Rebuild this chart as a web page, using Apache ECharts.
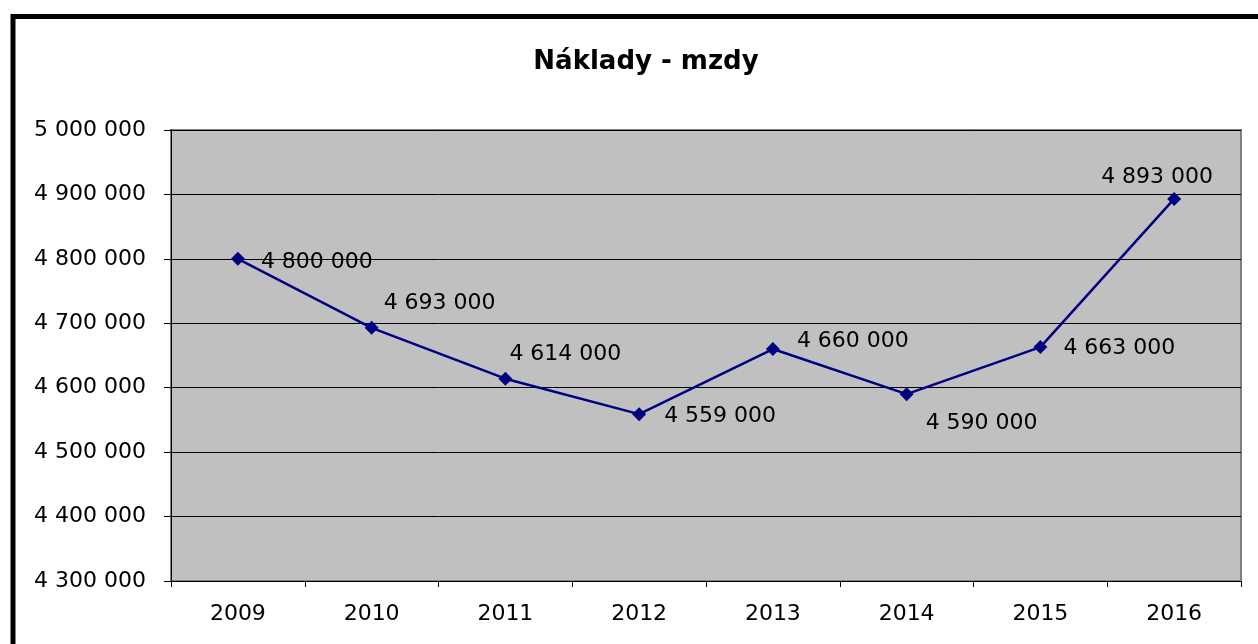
<!DOCTYPE html>
<html>
<head>
<meta charset="utf-8">
<script src="https://cdn.jsdelivr.net/npm/echarts@6/dist/echarts.min.js"></script>
<style>
html,body{margin:0;padding:0;background:#fff;}
#chart{width:1258px;height:644px;}
</style>
</head>
<body>
<div id="chart"></div>
<script>
const titleText = 'Náklady - mzdy';
const years = ['2009', '2010', '2011', '2012', '2013', '2014', '2015', '2016'];
const values = [4800000, 4693000, 4614000, 4559000, 4660000, 4590000, 4663000, 4893000];
const labelOffsets = [[23, 3], [12, -25], [4, -24], [25, 2], [24, -8], [19, 29], [23, 1], [-73, -22]];
const yMin = 4300000, yMax = 5000000, yStep = 100000;

function fmt(v) {
  return String(Math.round(v)).replace(/\B(?=(\d{3})+(?!\d))/g, ' ');
}

const FONT = 'DejaVu Sans';
const chart = echarts.init(document.getElementById('chart'), null, {renderer: 'canvas'});
chart.setOption({
  animation: false,
  backgroundColor: '#ffffff',
  title: {
    text: titleText,
    left: 641,
    top: 44,
    textAlign: 'center',
    textStyle: {fontFamily: FONT, fontSize: 26, fontWeight: 'bold', color: '#000'}
  },
  graphic: [{
    type: 'rect',
    z: 100,
    shape: {x: 13, y: 16.5, width: 1400, height: 800},
    style: {fill: 'none', stroke: '#000', lineWidth: 5}
  }],
  grid: {
    left: 171, top: 130, width: 1070, height: 451,
    show: true, backgroundColor: '#C0C0C0', borderColor: '#808080', borderWidth: 2,
    containLabel: false
  },
  xAxis: {
    type: 'category',
    data: years,
    boundaryGap: true,
    axisLine: {show: true, lineStyle: {color: '#000', width: 1}},
    axisTick: {show: true, length: 6, alignWithLabel: false, lineStyle: {color: '#000'}},
    axisLabel: {fontFamily: FONT, fontSize: 22, color: '#000', margin: 22}
  },
  yAxis: {
    type: 'value',
    min: yMin, max: yMax, interval: yStep,
    axisLine: {show: true, lineStyle: {color: '#000', width: 1}},
    axisTick: {show: true, length: 7, lineStyle: {color: '#000'}},
    splitLine: {show: true, lineStyle: {color: '#000', width: 1}},
    axisLabel: {fontFamily: FONT, fontSize: 22, color: '#000', margin: 25, formatter: fmt}
  },
  series: [{
    type: 'line',
    data: values.map((v, i) => ({
      value: v,
      label: {offset: labelOffsets[i]}
    })),
    lineStyle: {color: '#000080', width: 2.5},
    itemStyle: {color: '#000080'},
    symbol: 'diamond',
    symbolSize: 14,
    label: {
      show: true,
      position: 'inside',
      align: 'left',
      verticalAlign: 'middle',
      fontFamily: FONT,
      fontSize: 22,
      color: '#000',
      formatter: p => fmt(p.value)
    }
  }]
});
</script>
</body>
</html>
